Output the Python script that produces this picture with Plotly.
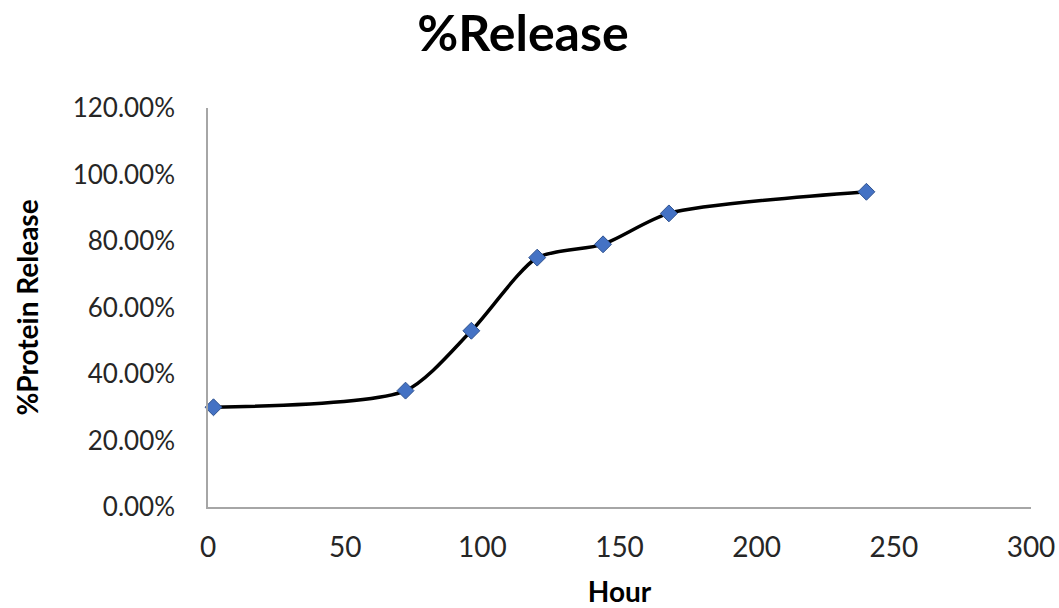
import plotly.graph_objects as go

hours = [2, 72, 96, 120, 144, 168, 240]
release = [0.30, 0.35, 0.53, 0.75, 0.79, 0.883, 0.948]
x_ticks = [0, 50, 100, 150, 200, 250, 300]
y_ticks = [0, 0.2, 0.4, 0.6, 0.8, 1.0, 1.2]

fig = go.Figure()
fig.add_trace(go.Scatter(
    x=hours, y=release, mode="lines+markers",
    line=dict(color="black", width=3.5, shape="spline", smoothing=0.7),
    marker=dict(symbol="diamond", size=13, color="#4472C4",
                line=dict(color="#2F528F", width=1)),
    showlegend=False, cliponaxis=False,
))

font_family = "Lato, 'Open Sans', sans-serif"
fig.update_layout(
    width=1059, height=608,
    margin=dict(l=208, r=28, t=108, b=101),
    paper_bgcolor="white", plot_bgcolor="white",
    title=dict(text="<b>%Release</b>", x=523 / 1059, xref="container", xanchor="center",
               y=1 - 33 / 608, yref="container", yanchor="middle",
               font=dict(family=font_family, size=50, color="black")),
    font=dict(family=font_family, color="#262626"),
)
fig.update_xaxes(
    range=[0, 300], tickvals=x_ticks, showgrid=False, zeroline=False,
    showline=True, linecolor="#A6A6A6", linewidth=1.5,
    tickfont=dict(size=28, color="#262626"), ticks="", ticklabelstandoff=15,
    automargin=False,
    title=dict(text="<b>Hour</b>", font=dict(size=28, color="black"), standoff=20),
)
fig.update_yaxes(
    range=[0, 1.2], tickvals=y_ticks, tickformat=".2%", showgrid=False, zeroline=False,
    showline=True, linecolor="#A6A6A6", linewidth=1.5,
    tickfont=dict(size=26, color="#262626"), ticks="", ticklabelstandoff=26,
    automargin=False,
    title=dict(text="<b>%Protein Release</b>", font=dict(size=28, color="black"), standoff=26),
)

fig.write_html("out.html")
